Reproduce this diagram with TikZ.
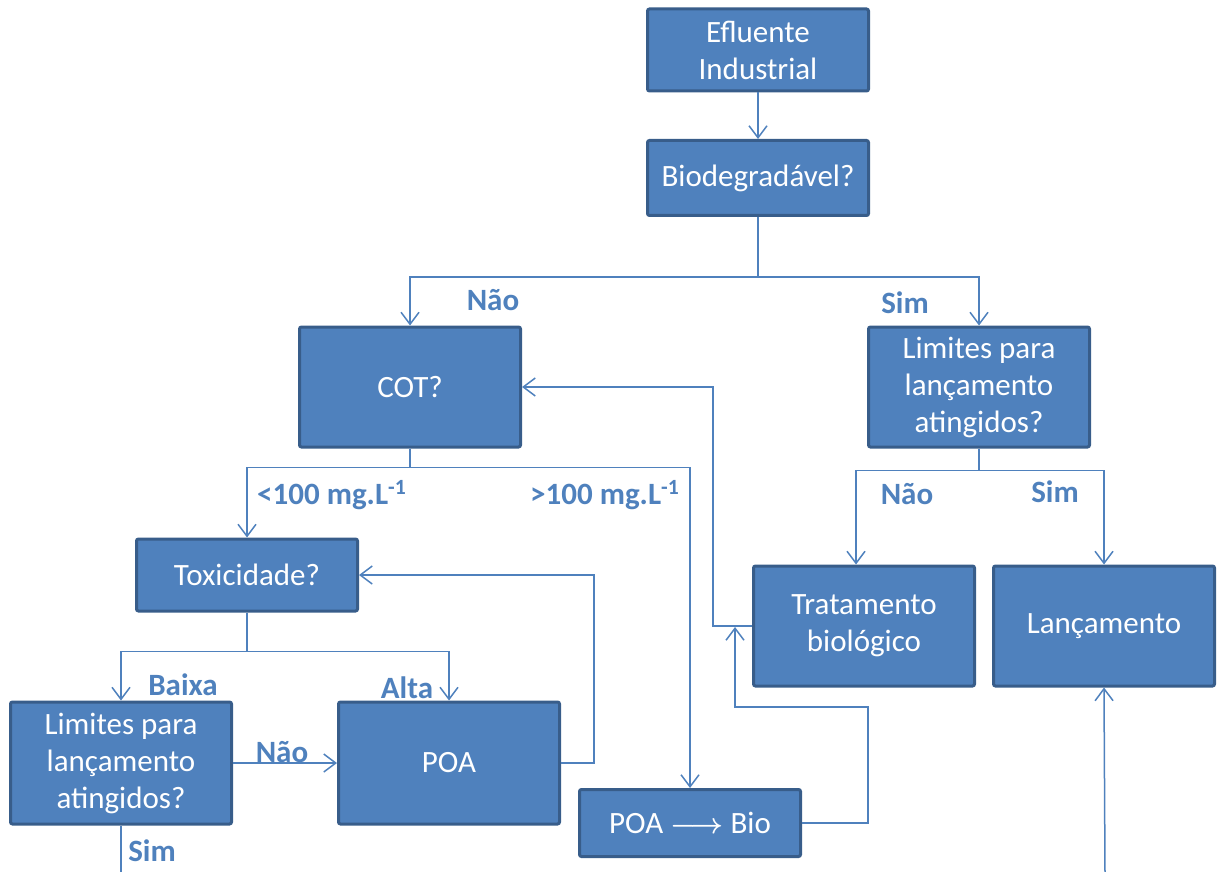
\documentclass[tikz,border=0pt]{standalone}
\usepackage{fontspec}
\setmainfont{Carlito}
\usepackage{xcolor}
\usepackage{amsmath, amssymb}
\usepackage{tikz}
\usetikzlibrary{arrows.meta, calc}

\definecolor{azul}{HTML}{4F81BD}
\definecolor{azulborda}{HTML}{385D8A}

\begin{document}
\begin{tikzpicture}[x=0.5pt, y=-0.5pt,
    caixa/.style={draw=azulborda, line width=1.5pt, fill=azul, text=white, rounded corners=1pt,
        minimum width=110.5pt, align=center, font=\fontsize{15.5}{18.5}\selectfont},
    rotulo/.style={text=azul, font=\bfseries\fontsize{15.5}{18}\selectfont},
    seta/.style={draw=azul, line width=0.75pt, -{Straight Barb[length=6pt, width=9pt, line width=0.75pt]}},
    linha/.style={draw=azul, line width=0.75pt}]
    \useasboundingbox (0,0) rectangle (1217,872);

    \node[caixa, minimum height=41pt] (efl) at (758,50) {Efluente\\Industrial};
    \node[caixa, minimum height=37.5pt] (bio) at (758,178) {Biodegradável?};
    \node[caixa, minimum height=60pt] (cot) at (410,387) {COT?};
    \node[caixa, minimum height=60pt] (limd) at (979,387) {Limites para\\lançamento\\atingidos?};
    \node[caixa, minimum height=36pt] (tox) at (247,575) {Toxicidade?};
    \node[caixa, minimum height=60pt] (trat) at (864,626) {Tratamento\\biológico};
    \node[caixa, minimum height=60pt] (lanc) at (1104,626) {Lançamento};
    \node[caixa, minimum height=61pt] (lime) at (121,763) {Limites para\\lançamento\\atingidos?};
    \node[caixa, minimum height=61pt] (poa) at (449,763) {POA};
    \node[caixa, minimum height=33.5pt] (poabio) at (690,823) {POA $\boldsymbol{\longrightarrow}$ Bio};

    \coordinate (juncao) at (735,627);
    \coordinate (fimsim) at (121,872);
    \coordinate (iniciolanc) at (1105,872);

    \draw[seta] (efl) -- (bio);
    \draw[seta] (bio.south) -- ++(0,60) -| (cot.north);
    \draw[seta] (bio.south) -- ++(0,60) -| (limd.north);
    \draw[seta] (cot.south) -- ++(0,19) -| (tox.north);
    \draw[seta] (cot.south) -- ++(0,19) -| (poabio.north);
    \draw[seta] (limd.south) -- ++(0,22) -| ([xshift=-4pt]trat.north);
    \draw[seta] (limd.south) -- ++(0,22) -| (lanc.north);
    \draw[seta] (trat.west) -- ++(-39,0) |- (cot.east);
    \draw[seta] (tox.south) -- ++(0,39) -| (lime.north);
    \draw[seta] (tox.south) -- ++(0,39) -| (poa.north);
    \draw[seta] (lime.east) -- (poa.west);
    \draw[seta] (poa.east) -- ++(33,0) |- (tox.east);
    \draw[seta] (poabio.east) -- ++(66,0) -- ++(0,-116) -| (juncao);
    \draw[linha] (lime.south) -- (fimsim);
    \draw[seta] (iniciolanc) -- (lanc.south);

    \node[rotulo] (naocot) at (493,300) {Não};
    \node[rotulo] (simlim) at (905,303) {Sim};
    \node[rotulo] (menor) at (332,495) {<100 mg.L\textsuperscript{-1}};
    \node[rotulo] (maior) at (605,495) {>100 mg.L\textsuperscript{-1}};
    \node[rotulo] (naotrat) at (907,494) {Não};
    \node[rotulo] (simlanc) at (1055,492) {Sim};
    \node[rotulo] (baixa) at (183,685) {Baixa};
    \node[rotulo] (alta) at (407,688) {Alta};
    \node[rotulo] (naopoa) at (282,752) {Não};
    \node[rotulo] (simfim) at (152,851) {Sim};
\end{tikzpicture}
\end{document}
